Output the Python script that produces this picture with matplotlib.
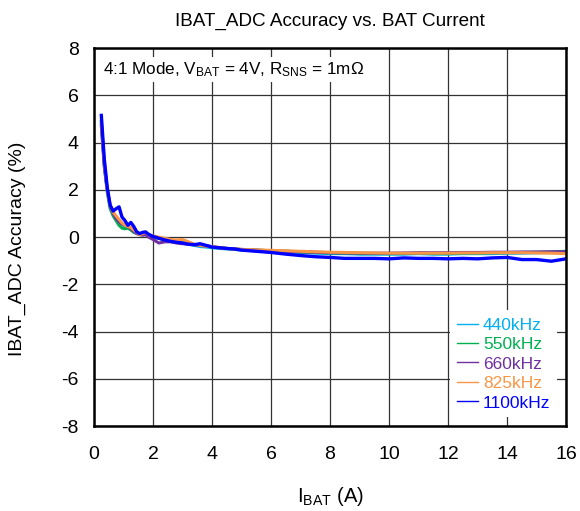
import numpy as np
import matplotlib
matplotlib.use('Agg')
import matplotlib.pyplot as plt

plt.rcParams['font.family'] = ['Liberation Sans', 'DejaVu Sans']
plt.rcParams['mathtext.default'] = 'regular'
plt.rcParams['axes.unicode_minus'] = False

# current points (A)
ibat = [0.25, 0.35, 0.45, 0.55, 0.65, 0.75, 0.85, 0.95, 1.05, 1.15, 1.25, 1.35, 1.45, 1.55,
        1.65, 1.75, 1.85, 2.0, 2.2, 2.4, 2.6, 2.8, 3.0, 3.2, 3.4, 3.6, 3.8, 4.0, 4.25, 4.5,
        4.75, 5.0, 5.5, 6.0, 6.5, 7.0, 7.5, 8.0, 8.5, 9.0, 9.5, 10.0, 10.5, 11.0, 11.5, 12.0,
        12.5, 13.0, 13.5, 14.0, 14.5, 15.0, 15.5, 16.0]

acc_440 = [4.9, 3.1, 2.0, 1.3, 1.0, 0.85, 0.7, 0.55, 0.45, 0.4, 0.35, 0.25, 0.18, 0.12,
           0.1, 0.12, 0.05, 0.0, -0.05, -0.1, -0.15, -0.2, -0.25, -0.3, -0.35, -0.4, -0.42, -0.45, -0.48, -0.5,
           -0.52, -0.55, -0.58, -0.6, -0.62, -0.65, -0.68, -0.7, -0.7, -0.72, -0.72, -0.72, -0.72, -0.7, -0.72, -0.72,
           -0.7, -0.7, -0.7, -0.68, -0.68, -0.66, -0.65, -0.62]
acc_550 = [4.8, 3.0, 1.9, 1.2, 0.9, 0.7, 0.5, 0.38, 0.35, 0.38, 0.3, 0.2, 0.15, 0.12,
           0.12, 0.15, 0.08, 0.0, -0.05, -0.12, -0.18, -0.22, -0.25, -0.28, -0.32, -0.35, -0.38, -0.42, -0.45, -0.48,
           -0.5, -0.53, -0.55, -0.58, -0.6, -0.63, -0.65, -0.67, -0.68, -0.7, -0.7, -0.7, -0.7, -0.68, -0.7, -0.7,
           -0.68, -0.68, -0.66, -0.66, -0.65, -0.64, -0.63, -0.6]
acc_660 = [4.7, 3.0, 2.0, 1.3, 1.0, 0.8, 0.65, 0.55, 0.5, 0.45, 0.35, 0.25, 0.15, 0.1,
           0.08, 0.1, 0.0, -0.1, -0.25, -0.2, -0.2, -0.25, -0.28, -0.3, -0.32, -0.35, -0.38, -0.4, -0.45, -0.48,
           -0.5, -0.52, -0.55, -0.58, -0.6, -0.62, -0.64, -0.66, -0.67, -0.68, -0.68, -0.68, -0.67, -0.66, -0.66, -0.66,
           -0.65, -0.65, -0.64, -0.64, -0.63, -0.63, -0.62, -0.62]
acc_825 = [4.9, 3.2, 2.0, 1.35, 1.05, 0.9, 0.75, 0.6, 0.5, 0.45, 0.4, 0.3, 0.2, 0.1,
           0.15, 0.2, 0.1, 0.05, 0.0, -0.05, -0.1, -0.12, -0.1, -0.2, -0.3, -0.35, -0.38, -0.4, -0.44, -0.48,
           -0.5, -0.52, -0.54, -0.56, -0.58, -0.6, -0.62, -0.64, -0.65, -0.66, -0.67, -0.68, -0.68, -0.68, -0.68, -0.68,
           -0.67, -0.67, -0.66, -0.66, -0.66, -0.67, -0.68, -0.7]
acc_1100 = [5.15, 3.3, 2.1, 1.35, 1.1, 1.2, 1.28, 0.85, 0.7, 0.5, 0.62, 0.45, 0.22, 0.15,
            0.2, 0.22, 0.12, 0.03, -0.05, -0.12, -0.18, -0.22, -0.25, -0.3, -0.32, -0.28, -0.35, -0.42, -0.45, -0.48,
            -0.5, -0.55, -0.6, -0.65, -0.72, -0.78, -0.83, -0.86, -0.9, -0.9, -0.9, -0.92, -0.88, -0.9, -0.9, -0.92,
            -0.9, -0.92, -0.88, -0.86, -0.95, -0.95, -1.02, -0.92]

labels = ['440kHz', '550kHz', '660kHz', '825kHz', '1100kHz']
colors = ['#00B0F0', '#00B050', '#7030A0', '#F79646', '#0000FF']
series = [acc_440, acc_550, acc_660, acc_825, acc_1100]

fig = plt.figure(figsize=(5.8, 5.11), dpi=100)
ax = fig.add_axes([0.162, 0.166, 0.814, 0.74])

for y, c, lab in zip(series, colors, labels):
    ax.plot(ibat, y, color=c, lw=2.2 if lab != '1100kHz' else 2.4, label=lab)

ax.set_xlim(0, 16)
ax.set_ylim(-8, 8)
ax.set_xticks(np.arange(0, 17, 2))
ax.set_yticks(np.arange(-8, 9, 2))
ax.grid(True, color='#333333', lw=0.9)
ax.set_axisbelow(True)
for s in ax.spines.values():
    s.set_linewidth(1.8)
ax.tick_params(axis='x', length=0, labelsize=14, pad=14)
ax.tick_params(axis='y', length=0, labelsize=14, pad=11)

ax.set_title('IBAT_ADC Accuracy vs. BAT Current', fontsize=13.6, pad=16)
ax.set_xlabel('$I_{BAT}$ (A)', fontsize=14.5, labelpad=16)
ax.set_ylabel('IBAT_ADC Accuracy (%)', fontsize=14)
ax.yaxis.set_label_coords(-0.145, 0.47)

ax.text(0.02, 0.968, '4:1 Mode, $V_{BAT}$ = 4V, $R_{SNS}$ = 1m\u03a9', transform=ax.transAxes,
        fontsize=12.3, va='top', ha='left',
        bbox=dict(facecolor='white', edgecolor='none', pad=2))

leg = ax.legend(loc='lower right', frameon=True, fontsize=12.5, handlelength=1.2,
                handletextpad=0.3, labelspacing=0.25, borderaxespad=0.5, borderpad=0.4)
leg.get_frame().set_edgecolor('none')
leg.get_frame().set_facecolor('white')
leg.get_frame().set_alpha(1)
for line, txt, c in zip(leg.get_lines(), leg.get_texts(), colors):
    line.set_linewidth(1.0)
    txt.set_color(c)

fig.savefig('out.png', dpi=100)
